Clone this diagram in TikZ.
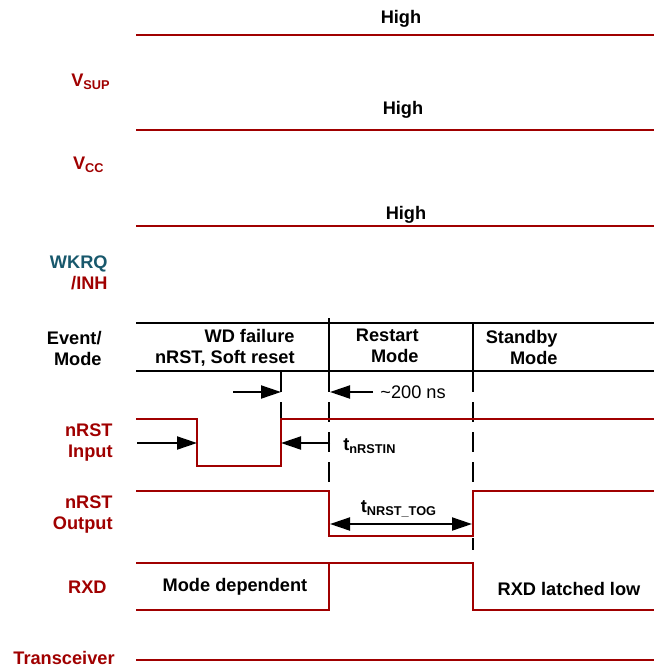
\documentclass[tikz,border=0pt]{standalone}
\usepackage{fontspec}
\setmainfont{Liberation Sans}
\usetikzlibrary{arrows.meta, positioning, calc}
\definecolor{TIred}{RGB}{160,0,0}
\definecolor{TIteal}{RGB}{24,88,108}
\tikzset{every node/.style={font=\bfseries\fontsize{9.1}{10.5}\selectfont, inner sep=0pt}, every path/.style={line join=miter}, >={Triangle[length=10pt, width=6.5pt]}}

\begin{document}
\begin{tikzpicture}[x=0.5pt, y=-0.5pt,
    sig/.style={draw=TIred, line width=1.3pt},
    frame/.style={draw=black, line width=1.2pt},
    guide/.style={draw=black, line width=1pt, dash pattern=on 10pt off 5pt},
    meas/.style={draw=black, line width=1pt},
    siglabel/.style={text=TIred, align=right, anchor=east},
    modetext/.style={align=right, anchor=east}]
    \useasboundingbox (0,0) rectangle (654,666);

    % supply rails
    \draw [sig] (136,35) -- (654,35);
    \draw [sig] (136,130) -- (654,130);
    \draw [sig] (136,226) -- (654,226);
    \node (high1) at (401,19) {High};
    \node (high2) at (403,110) {High};
    \node (high3) at (406,215) {High};

    % event / mode row
    \draw [frame] (136,323) -- (654,323);
    \draw [frame] (136,371) -- (654,371);
    \draw [frame] (329,318) -- (329,371);
    \draw [frame] (473,323) -- (473,371);
    \node [modetext] (event) at (102,348) {Event/\\Mode};
    \node [modetext] (wdfail) at (295,348) {WD failure\\nRST, Soft reset};
    \node [modetext] (restart) at (419,346) {Restart\\Mode};
    \node [modetext] (standby) at (558,347) {Standby\\Mode};

    % guide lines
    \draw [guide] (281,372) -- (281,419);
    \draw [guide] (329,372) -- (329,491);
    \draw [guide] (473,372) -- (473,491);
    \draw [guide] (473,538) -- (473,550);

    % waveforms
    \draw [sig] (136,419) -- (197,419) -- (197,466) -- (281,466) -- (281,419) -- (654,419);
    \draw [sig] (136,491) -- (329,491) -- (329,536) -- (473,536) -- (473,491) -- (654,491);
    \draw [sig] (136,563) -- (473,563) -- (473,610) -- (654,610);
    \draw [sig] (136,610) -- (329,610) -- (329,563);
    \draw [sig] (136,660) -- (654,660);

    % timing arrows
    \coordinate (wdA) at (233,392);
    \coordinate (wdB) at (281,392);
    \coordinate (dlyA) at (373,392);
    \coordinate (dlyB) at (330,392);
    \coordinate (inA) at (137,443);
    \coordinate (inB) at (197,443);
    \coordinate (inC) at (330,443);
    \coordinate (inD) at (281,443);
    \coordinate (togA) at (330,524);
    \coordinate (togB) at (472,524);
    \draw [meas, ->] (wdA) -- (wdB);
    \draw [meas, ->] (dlyA) -- (dlyB);
    \draw [meas, ->] (inA) -- (inB);
    \draw [meas, ->] (inC) -- (inD);
    \draw [meas, <->] (togA) -- (togB);
    \node [font=\fontsize{9.1}{10.5}\selectfont, anchor=west] (dly) at (380,392) {\textasciitilde200 ns};
    \node [anchor=west] (tin) at (343,446) {t\textsubscript{nRSTIN}};
    \node (ttog) at (399,509) {t\textsubscript{NRST\_TOG}};
    \node (modedep) at (235,587) {Mode dependent};
    \node (latched) at (569,589) {RXD latched low};

    % signal names
    \node [siglabel] (vsup) at (111,82) {V\textsubscript{SUP}};
    \node [siglabel] (vcc) at (105,165) {V\textsubscript{CC}};
    \node [siglabel] (wkrq) at (108,273) {\textcolor{TIteal}{WKRQ}\\/INH};
    \node [siglabel] (nrstin) at (113,443) {nRST\\Input};
    \node [siglabel] (nrstout) at (113,515) {nRST\\Output};
    \node [siglabel] (rxd) at (107,587) {RXD};
    \node [siglabel] (trx) at (115,658) {Transceiver};
\end{tikzpicture}
\end{document}
